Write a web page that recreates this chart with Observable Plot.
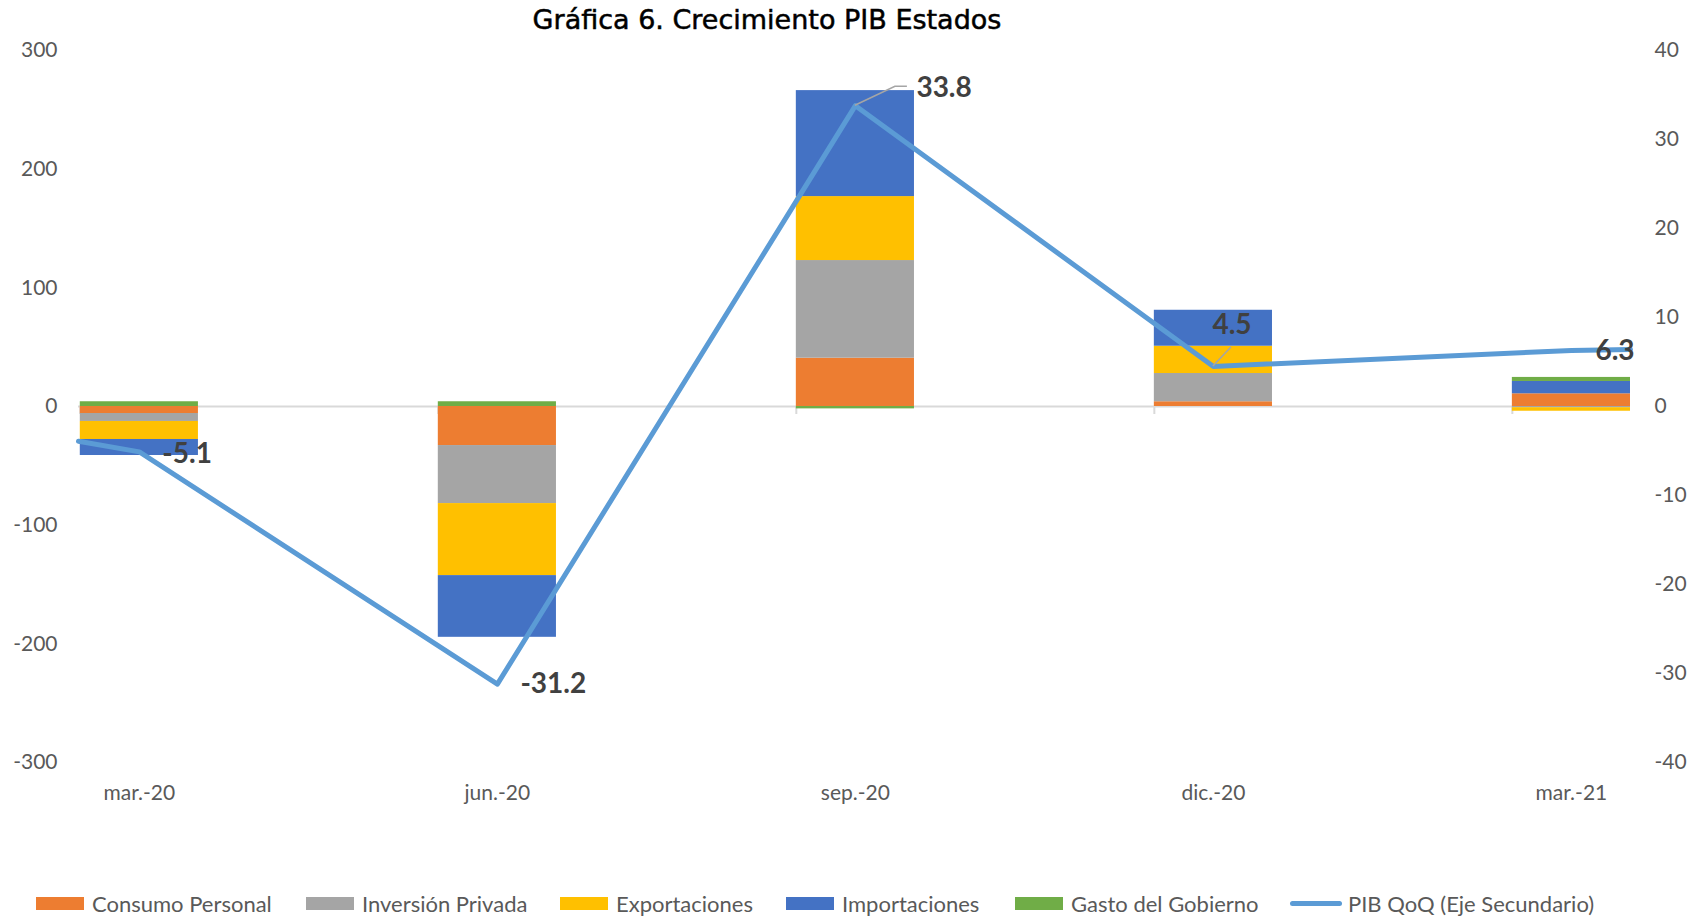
<!DOCTYPE html>
<html>
<head>
<meta charset="utf-8">
<script src="https://cdn.jsdelivr.net/npm/d3@7"></script>
<script src="https://cdn.jsdelivr.net/npm/@observablehq/plot@0.6"></script>
<style>
  html, body { margin: 0; padding: 0; background: #fff; }
  body { width: 1692px; height: 916px; overflow: hidden; font-family: Lato, "Open Sans", sans-serif; }
  #title { position: relative; z-index: 2; width: 1534px; height: 40px; line-height: 40px; margin-bottom: -14px; text-align: center; font-family: "DejaVu Sans", sans-serif; font-size: 27px; color: #000; -webkit-text-stroke: 0.5px #000; }
  #chart { height: 814px; }
  #legend { position: relative; height: 76px; }
  .item { position: absolute; top: 52px; height: 22px; display: flex; align-items: center; font-size: 22px; color: #595959; white-space: nowrap; }
  .sw { width: 48px; height: 13px; margin-right: 8px; }
  .ln { width: 52px; height: 5px; border-radius: 3px; margin-right: 6px; }
</style>
</head>
<body>
<div id="title">Gráfica 6. Crecimiento PIB Estados</div>
<div id="chart"></div>
<div id="legend"></div>
<script>
// ---- data ----
const categories = ["mar.-20", "jun.-20", "sep.-20", "dic.-20", "mar.-21"];
const seriesNames = ["Consumo Personal", "Inversión Privada", "Exportaciones", "Importaciones", "Gasto del Gobierno"];
const consumoPersonal = [-5.9, -32.9, 40.7, 4.0, 10.7];
const inversionPrivada = [-6.7, -48.9, 82.3, 23.8, -1.0];
const exportaciones = [-15.2, -60.7, 53.9, 23.0, -3.0];
const importaciones = [-13.5, -52.0, 89.3, 30.3, 10.4];
const gastoGobierno = [4.0, 4.0, -2.0, 0.0, 3.4];
const pibQoQ = [-5.1, -31.2, 33.8, 4.5, 6.3];
const pibBordes = [-3.9, 6.4]; // line continues to the plot edges
const lineName = "PIB QoQ (Eje Secundario)";
const leftTicks = [-300, -200, -100, 0, 100, 200, 300];
const rightTicks = [-40, -30, -20, -10, 0, 10, 20, 30, 40];

// ---- styles ----
const colors = ["#ED7D31", "#A5A5A5", "#FFC000", "#4472C4", "#70AD47"];
const lineColor = "#5B9BD5";
const ratio = 7.5; // primary / secondary
const half = 0.165;
const xDomain = [-0.17, 4.165];

const seriesValues = [consumoPersonal, inversionPrivada, exportaciones, importaciones, gastoGobierno];
const rows = [];
categories.forEach((c, i) => {
  let pos = 0, neg = 0;
  seriesValues.forEach((vals, s) => {
    const v = vals[i];
    if (v >= 0) { rows.push({i, s: seriesNames[s], y1: pos, y2: pos + v}); pos += v; }
    else { rows.push({i, s: seriesNames[s], y1: neg, y2: neg + v}); neg += v; }
  });
});

const lineData = [
  {x: xDomain[0], v: pibBordes[0]},
  ...pibQoQ.map((v, i) => ({x: i, v})),
  {x: xDomain[1], v: pibBordes[1]}
];

const labelOffsets = [[23, 2], [23, 0], [61, -18], [-1, -41], [24, 1]];

const chart = Plot.plot({
  width: 1692,
  height: 814,
  marginTop: 24,
  marginBottom: 78,
  marginLeft: 78,
  marginRight: 62,
  style: {fontFamily: "Lato, sans-serif", fontSize: "21px", color: "#595959", background: "transparent"},
  x: {type: "linear", domain: xDomain},
  y: {domain: [-300, 300]},
  color: {domain: seriesNames, range: colors},
  marks: [
    Plot.ruleY([0], {stroke: "#D9D9D9", strokeWidth: 2}),
    Plot.ruleX(categories.map((c, i) => i), {x: d => d - half, y1: 0, y2: 0, insetBottom: -8, stroke: "#D9D9D9", strokeWidth: 2}),
    Plot.rectY(rows, {x1: d => d.i - half, x2: d => d.i + half, y1: "y1", y2: "y2", fill: "s"}),
    Plot.axisY({anchor: "left", ticks: leftTicks, tickSize: 0, tickPadding: 21, label: null, tickFormat: d => String(d)}),
    Plot.axisY({anchor: "right", ticks: rightTicks.map(t => t * ratio), tickSize: 0, tickPadding: 24, label: null, tickFormat: d => String(Math.round(d / ratio))}),
    Plot.axisX({ticks: categories.map((c, i) => i), tickSize: 0, tickPadding: 23, label: null, tickFormat: i => categories[i]}),
    Plot.line(lineData, {x: "x", y: d => d.v * ratio, stroke: lineColor, strokeWidth: 5}),
    ...pibQoQ.map((v, i) => Plot.text([i], {
      x: d => d, y: d => pibQoQ[d] * ratio, text: d => pibQoQ[d].toFixed(1),
      dx: labelOffsets[i][0], dy: labelOffsets[i][1], textAnchor: "start",
      fontWeight: "bold", fontSize: 28, fill: "#404040"
    }))
  ]
});

// leader lines
const sx = chart.scale("x"), sy = chart.scale("y");
const leaders = [[2, [[0,0],[40,-19],[52,-19]]], [3, [[0,0],[18,-19]]]];
const svg = d3.select(chart);
leaders.forEach(([i, pts]) => {
  const px = sx.apply(i), py = sy.apply(pibQoQ[i] * ratio);
  svg.append("path")
    .attr("d", d3.line()(pts.map(p => [px + p[0], py + p[1]])))
    .attr("fill", "none").attr("stroke", "#A5A5A5").attr("stroke-width", 1.6);
});
// keep labels on top
svg.selectAll("g[aria-label='text']").raise();

document.getElementById("chart").appendChild(chart);

// legend
const legend = document.getElementById("legend");
const lefts = [36, 306, 560, 786, 1015];
seriesNames.forEach((name, k) => {
  const it = document.createElement("div");
  it.className = "item";
  it.style.left = lefts[k] + "px";
  it.innerHTML = `<span class="sw" style="background:${colors[k]}"></span><span>${name}</span>`;
  legend.appendChild(it);
});
const li = document.createElement("div");
li.className = "item";
li.style.left = "1290px";
li.innerHTML = `<span class="ln" style="background:${lineColor}"></span><span>${lineName}</span>`;
legend.appendChild(li);
</script>
</body>
</html>
